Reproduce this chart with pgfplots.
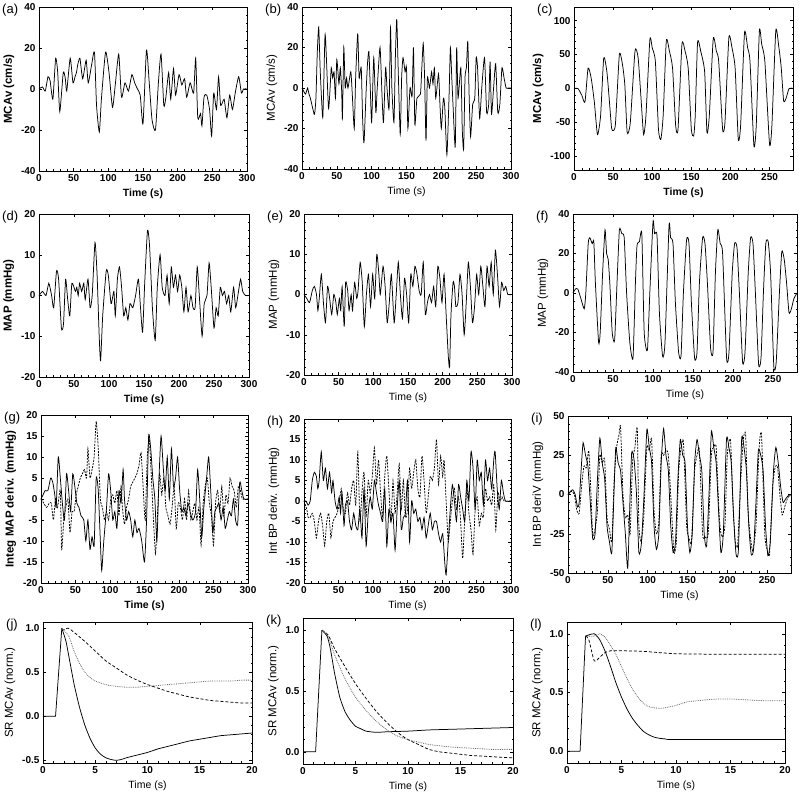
\documentclass[border=0pt]{standalone}
\usepackage{pgfplots}
\pgfplotsset{compat=1.18}
\usepackage{fontspec}
\setmainfont{Liberation Sans}

\pgfplotsset{
  panel/.style={
    scale only axis,
    axis line style={black, line width=0.6pt},
    tick align=inside,
    major tick length=3pt,
    minor tick length=1.5pt,
    minor tick num=4,
    tick style={black, line width=0.4pt},
    tick label style={font=\bfseries\fontsize{10}{10}\selectfont},
    xlabel style={font=\fontsize{10.5}{11}\selectfont},
    ylabel style={font=\fontsize{11.5}{12}\selectfont},
    xlabel={Time (s)},
    clip=false,
  },
  boldlab/.style={xlabel style={font=\bfseries\fontsize{10.5}{11}\selectfont},
                  ylabel style={font=\bfseries\fontsize{11.5}{12}\selectfont}},
  sig/.style={line width=0.75pt, black, smooth, tension=0.35},
  dsh/.style={line width=0.75pt, black, smooth, tension=0.35, dash pattern=on 2pt off 1.2pt},
  dshl/.style={line width=0.75pt, black, smooth, tension=0.4, dash pattern=on 3pt off 2pt},
  dtt/.style={line width=0.8pt, black!60, smooth, tension=0.4, dash pattern=on 0.8pt off 1pt},
}
\newcommand{\plab}[1]{\node[anchor=north west, font=\fontsize{13}{13}\selectfont, inner sep=0pt] at ([xshift=-37pt, yshift=3pt]rel axis cs:0,1) {#1};}

\begin{document}
\begin{tikzpicture}
\useasboundingbox (0pt,0pt) rectangle (800pt,797pt);

% (a)
\begin{axis}[panel, boldlab, at={(39pt,626pt)}, anchor=south west, width=208pt, height=164pt,
  xmin=0, xmax=300, ymin=-40, ymax=40, xtick={0,50,100,150,200,250,300},
  xticklabels={0,50,100,150,200,250,300},
  ytick={-40,-20,0,20,40}, yticklabels={-40,-20,0,20,40}, ylabel={MCAv (cm/s)}]
\addplot[sig] coordinates {(0,0)(5,1)(9,-1)(13,6)(16,4)(20,-5)(24,15)(27,8)(30,-11)(35,8)(38,5)(40,-1)(45,15)(49,3)(52,6)(54,8)(56,12)(59,15)(63,5)(68,14)(71,3)(76,12)(80,18)(83,-8)(87,-21)(90,-5)(96,18)(101,8)(106,-9)(110,2)(115,17)(119,-4)(124,3)(129,-1)(134,7)(138,3)(142,0)(146,-3)(150,-17)(155,19)(159,3)(163,-15)(168,-20)(172,2)(176,17)(180,-8)(183,-4)(187,8)(190,-5)(194,10)(197,-3)(202,7)(206,2)(210,5)(213,-4)(218,3)(223,-2)(226,15)(229,-14)(233,-12)(235,-18)(238,-4)(242,-3)(246,-10)(249,-23)(252,-2)(256,-10)(259,6)(262,-8)(267,-5)(271,-14)(275,-3)(279,-10)(283,-2)(288,6)(292,-2)(295,0)(300,0)};
\plab{(a)}
\end{axis}

% (b)
\begin{axis}[panel, at={(302pt,628pt)}, anchor=south west, width=209pt, height=162pt,
  xmin=0, xmax=300, ymin=-40, ymax=40, xtick={0,50,100,150,200,250,300},
  xticklabels={0,50,100,150,200,250,300},
  ytick={-40,-20,0,20,40}, yticklabels={-40,-20,0,20,40}, ylabel={MCAv (cm/s)}]
\addplot[sig] coordinates {(0,0)(5,-3)(8,0)(10,-3)(12,-5)(16,-11)(18,-13)(20,-5)(22,18)(24,30)(26,10)(28,-5)(30,-14)(33,26)(35,15)(38,-10)(40,-2)(42,10)(44,5)(46,8)(48,-5)(50,14)(53,2)(55,10)(57,-2)(58,-15)(60,20)(62,0)(64,5)(66,0)(70,8)(72,-2)(75,-20)(77,5)(80,27)(82,5)(85,10)(87,-15)(89,-27)(92,-2)(94,12)(96,18)(98,0)(100,-17)(103,15)(106,-12)(108,0)(112,20)(115,-5)(117,-17)(120,10)(122,0)(125,-10)(127,30)(129,0)(132,-17)(134,15)(136,34)(138,10)(141,-23)(143,5)(145,15)(148,8)(150,10)(152,-20)(155,0)(158,-4)(160,20)(162,-18)(165,-5)(170,-3)(172,10)(174,22)(176,5)(178,-26)(180,5)(183,0)(186,8)(188,2)(190,10)(192,-5)(196,7)(198,-8)(200,-20)(203,-5)(205,-10)(208,-33)(211,-5)(213,20)(215,5)(217,-10)(220,-29)(222,20)(224,-5)(228,10)(230,-20)(232,-30)(234,5)(236,10)(238,23)(240,-5)(242,-24)(245,-8)(248,-5)(250,15)(252,10)(255,-15)(258,0)(262,15)(265,-12)(268,-8)(270,13)(272,-13)(275,0)(278,12)(281,-12)(284,-8)(287,10)(290,5)(293,0)(296,0)(300,0)};
\plab{(b)}
\end{axis}

% (c)
\begin{axis}[panel, boldlab, at={(574pt,627pt)}, anchor=south west, width=219pt, height=163pt,
  xmin=0, xmax=280, ymin=-120, ymax=120, xtick={0,50,100,150,200,250},
  xticklabels={0,50,100,150,200,250},
  ytick={-100,-50,0,50,100}, yticklabels={-100,-50,0,50,100}, ylabel={MCAv (cm/s)}]
\addplot[sig] coordinates {(0,0)(5,0)(10,-10)(14,-20)(18,30)(22,15)(26,-20)(30,-68)(34,-40)(38,45)(42,25)(45,-15)(48,-58)(50,-62)(53,-52)(58,50)(62,35)(65,5)(68,-65)(72,-50)(78,55)(82,45)(86,-20)(89,-68)(92,-40)(97,72)(100,60)(104,40)(108,-60)(111,-75)(114,-40)(118,70)(122,55)(126,30)(130,-55)(133,-60)(138,65)(142,55)(146,30)(150,-60)(153,-70)(155,-40)(158,68)(162,55)(167,25)(170,-65)(173,-40)(178,73)(182,55)(185,40)(190,-60)(193,-50)(198,75)(202,60)(206,30)(210,-74)(213,-55)(218,82)(222,60)(225,40)(230,-84)(233,-55)(237,85)(240,65)(244,40)(250,-82)(253,-55)(258,85)(262,60)(265,30)(268,-18)(271,-15)(275,0)(280,0)};
\plab{(c)}
\end{axis}

% (d)
\begin{axis}[panel, boldlab, at={(39pt,420pt)}, anchor=south west, width=210pt, height=163pt,
  xmin=0, xmax=300, ymin=-20, ymax=20, xtick={0,50,100,150,200,250,300},
  xticklabels={0,50,100,150,200,250,300},
  ytick={-20,-10,0,10,20}, yticklabels={-20,-10,0,10,20}, ylabel={MAP (mmHg)}]
\addplot[sig] coordinates {(0,0)(5,1)(10,0)(14,3)(18,0)(21,-3)(25,6)(28,4)(32,-8)(35,-7)(38,4)(41,-1)(44,-5)(47,3)(52,1)(54,2)(56,0)(58,3)(61,1)(64,3)(66,-1)(70,4)(73,-3)(76,0)(80,13)(83,5)(86,-10)(88,-16)(91,-5)(96,6)(99,5)(103,-2)(107,1)(109,-5)(112,4)(115,7)(118,2)(121,-5)(124,-3)(127,-6)(130,-2)(134,-3)(138,0)(142,4)(145,-3)(148,-9)(151,3)(155,16)(158,12)(162,-3)(166,-11)(169,2)(173,10)(176,2)(180,0)(183,5)(186,-2)(189,7)(192,2)(195,5)(198,1)(201,5)(204,2)(207,-4)(210,2)(213,-4)(217,0)(220,-3)(223,-3)(226,7)(229,0)(233,-10)(236,-2)(240,0)(243,8)(246,2)(250,-8)(253,-3)(256,-5)(259,2)(262,0)(265,1)(268,-2)(271,0)(274,-4)(278,2)(281,-3)(285,1)(288,4)(291,1)(295,0)(300,0)};
\plab{(d)}
\end{axis}

% (e)
\begin{axis}[panel, at={(304pt,422pt)}, anchor=south west, width=208pt, height=161pt,
  xmin=0, xmax=300, ymin=-20, ymax=20, xtick={0,50,100,150,200,250,300},
  xticklabels={0,50,100,150,200,250,300},
  ytick={-20,-10,0,10,20}, yticklabels={-20,-10,0,10,20}, ylabel={MAP (mmHg)}]
\addplot[sig] coordinates {(0,0)(4,-1)(8,-2)(12,1)(15,2)(18,0)(20,-4)(22,-1)(25,5)(28,-2)(31,-7)(34,2)(37,-1)(40,-5)(43,0)(46,-2)(48,-5)(51,-1)(53,-4)(55,2)(58,-8)(60,3)(63,1)(65,-4)(68,0)(70,-4)(73,3)(76,-1)(78,1)(81,8)(84,3)(87,-8)(90,0)(93,5)(96,-3)(99,5)(102,-1)(105,10)(108,5)(110,0)(114,7)(117,2)(120,-7)(123,-2)(126,5)(130,-7)(133,0)(136,8)(139,0)(142,-6)(145,4)(148,0)(151,-7)(154,5)(157,2)(160,7)(163,5)(166,1)(169,0)(172,8)(175,-5)(178,-2)(181,0)(184,-2)(187,2)(190,-3)(193,7)(196,4)(199,-2)(202,5)(205,-5)(208,-15)(210,-18)(212,-5)(215,3)(217,2)(219,-3)(222,-2)(225,5)(228,0)(231,-10)(234,-2)(237,8)(240,2)(243,-7)(246,-3)(249,5)(252,0)(255,7)(258,2)(261,-3)(264,7)(267,2)(270,8)(273,0)(276,11)(279,5)(282,-3)(285,3)(288,1)(291,2)(294,0)(300,0)};
\plab{(e)}
\end{axis}

% (f)
\begin{axis}[panel, at={(573pt,425pt)}, anchor=south west, width=224pt, height=158pt,
  xmin=0, xmax=280, ymin=-40, ymax=40, xtick={0,50,100,150,200,250},
  xticklabels={0,50,100,150,200,250},
  ytick={-40,-20,0,20,40}, yticklabels={-40,-20,0,20,40}, ylabel={MAP (mmHg)}]
\addplot[sig] coordinates {(0,0)(3,2)(6,2)(10,-3)(14,-8)(16,0)(19,25)(21,28)(24,25)(26,26)(28,5)(32,-25)(34,-20)(37,10)(40,32)(42,20)(44,17)(46,5)(49,-20)(52,-24)(55,5)(58,32)(61,30)(64,28)(67,0)(71,-25)(75,-33)(78,5)(80,24)(83,26)(86,30)(89,-20)(93,-29)(96,0)(100,36)(102,30)(105,29)(108,-10)(112,-32)(115,-25)(120,34)(122,28)(125,25)(128,-5)(132,-30)(135,-32)(138,0)(142,27)(145,25)(148,-5)(152,-33)(155,-30)(158,5)(162,28)(165,25)(168,5)(172,-28)(175,-30)(178,10)(181,32)(184,25)(187,20)(192,-33)(195,-30)(199,10)(202,25)(205,23)(208,0)(212,-35)(215,-30)(219,10)(222,28)(225,25)(228,0)(232,-36)(235,-33)(238,0)(241,25)(244,26)(247,10)(251,-37)(254,-35)(258,0)(261,21)(264,17)(267,5)(270,-10)(273,-8)(276,-3)(280,0)};
\plab{(f)}
\end{axis}

% (g)
\begin{axis}[panel, boldlab, at={(41pt,214pt)}, anchor=south west, width=207pt, height=168pt,
  xmin=0, xmax=300, ymin=-20, ymax=20, xtick={0,50,100,150,200,250,300},
  xticklabels={0,50,100,150,200,250,300},
  ytick={-20,-15,-10,-5,0,5,10,15,20}, yticklabels={-20,-15,-10,-5,0,5,10,15,20}, ylabel={Integ MAP deriv. (mmHg)}]
\addplot[sig] coordinates {(0,0)(3,1)(6,2)(10,2)(14,5)(17,4)(20,1)(22,-2)(25,10)(28,5)(31,-1)(34,-5)(37,6)(40,2)(43,-3)(46,6)(49,3)(52,-1)(55,-2)(58,-4)(62,-5)(65,-10)(68,-5)(71,-12)(74,-9)(77,-11)(80,5)(83,2)(86,-10)(88,-17)(91,-10)(95,-2)(98,6)(101,2)(104,-5)(107,-3)(110,-7)(113,2)(116,-1)(119,7)(121,0)(124,-5)(127,-3)(130,-5)(133,-9)(136,-5)(139,-8)(142,-7)(146,-10)(150,-15)(153,-5)(156,15)(159,12)(162,5)(165,0)(168,-10)(171,5)(174,15)(177,8)(180,2)(183,10)(186,0)(189,12)(192,3)(195,5)(198,10)(201,2)(204,-3)(207,-2)(210,-4)(213,-1)(216,-3)(220,-5)(224,-3)(227,7)(230,0)(233,-9)(236,-2)(240,5)(243,10)(246,2)(249,-8)(252,-3)(255,-2)(258,-1)(261,-5)(264,-2)(267,-7)(270,-5)(273,-3)(276,-4)(279,0)(282,-5)(285,-6)(288,4)(291,2)(294,0)(300,0)};
\addplot[dsh] coordinates {(0,0)(4,-1)(8,-2)(12,-1)(15,-1)(18,-5)(21,0)(24,-2)(28,2)(30,-12)(33,-5)(36,-2)(39,0)(42,-8)(45,-3)(48,-3)(51,1)(54,3)(57,5)(60,6)(63,7)(66,5)(68,12)(71,5)(74,7)(77,10)(80,18.5)(83,12)(86,0)(89,-2)(92,-5)(95,-3)(98,-5)(101,0)(104,1)(107,-1)(110,2)(113,-4)(116,3)(118,-2)(121,-6)(124,-2)(127,0)(130,3)(133,4)(136,5)(139,6)(142,8)(145,11)(148,3)(151,-5)(154,10)(157,14)(160,5)(163,-5)(166,-13)(169,-3)(172,6)(175,1)(178,5)(181,-2)(184,-4)(187,-6)(190,-2)(193,3)(196,-7)(199,-1)(202,-2)(205,-5)(208,0)(211,-5)(214,2)(217,-5)(220,-3)(223,-1)(226,-5)(229,-2)(232,-11)(235,-1)(238,3)(241,5)(244,-1)(247,-4)(250,-11)(253,-1)(256,2)(259,-3)(262,3)(265,-4)(268,1)(271,-1)(274,5)(277,3)(280,2)(283,-2)(286,3)(289,2)(292,0)(300,0)};
\plab{(g)}
\end{axis}

% (h)
\begin{axis}[panel, at={(304pt,214pt)}, anchor=south west, width=207pt, height=164pt,
  xmin=0, xmax=300, ymin=-20, ymax=20, xtick={0,50,100,150,200,250,300},
  xticklabels={0,50,100,150,200,250,300},
  ytick={-20,-15,-10,-5,0,5,10,15,20}, yticklabels={-20,-15,-10,-5,0,5,10,15,20}, ylabel={Int BP deriv. (mmHg)}]
\addplot[sig] coordinates {(0,0)(3,0)(6,-1)(9,0)(12,5)(15,7)(18,6)(20,3)(22,5)(25,12)(28,5)(31,8)(34,3)(37,7)(40,2)(42,5)(45,0)(48,-2)(51,1)(53,-3)(55,2)(58,-6)(60,-1)(63,0)(66,-5)(69,-7)(72,-3)(75,-6)(78,-7)(81,-2)(84,-9)(87,3)(90,-11)(93,-3)(96,1)(99,-2)(102,5)(105,2)(108,-1)(111,-3)(114,-5)(117,3)(120,-11)(123,-2)(126,-5)(129,-3)(132,-12)(135,-2)(138,5)(141,-7)(144,-4)(147,-3)(150,5)(153,-10)(156,0)(159,-3)(162,-2)(165,-5)(168,-4)(171,-7)(174,-4)(177,-9)(180,-6)(183,-3)(186,-7)(189,-5)(192,-5)(195,-8)(198,-10)(201,-8)(204,-15)(206,-18)(209,-10)(212,-2)(215,4)(218,0)(221,-5)(224,4)(227,1)(230,-2)(233,-5)(236,5)(239,0)(242,12)(245,8)(248,-2)(251,10)(254,5)(257,7)(260,-1)(263,10)(266,5)(269,8)(272,3)(275,10)(277,12)(280,3)(283,-2)(286,5)(289,2)(292,0)(300,0)};
\addplot[dsh] coordinates {(0,0)(4,-2)(6,-4)(9,-4)(12,-3)(15,-5)(18,-9)(21,-5)(24,-3)(27,-6)(30,-11)(33,-5)(36,-3)(39,-9)(42,-5)(45,-4)(48,-3)(51,-1)(54,3)(57,-2)(60,-3)(63,2)(66,-1)(69,3)(72,5)(75,-1)(78,12)(81,-5)(84,2)(87,7)(90,-4)(93,5)(96,2)(99,6)(102,13)(105,4)(108,10)(111,2)(114,-4)(117,6)(120,11)(123,3)(126,-5)(129,5)(132,-3)(135,2)(138,9)(141,-2)(144,5)(147,-4)(150,-2)(153,8)(156,3)(159,7)(162,10)(165,3)(168,1)(171,11)(174,5)(177,-3)(180,1)(183,6)(186,5)(189,8)(192,15)(195,4)(198,11)(201,6)(203,10)(206,0)(209,-10)(212,-5)(215,0)(218,3)(221,-2)(224,1)(227,-5)(230,-14)(233,-4)(236,3)(239,-3)(242,-7)(245,-13)(248,-2)(251,1)(254,-6)(257,-3)(260,-4)(263,3)(266,0)(269,1)(272,-1)(275,4)(278,-7)(281,2)(284,0)(287,1)(290,0)(300,0)};
\plab{(h)}
\end{axis}

% (i)
\begin{axis}[panel, at={(568pt,224pt)}, anchor=south west, width=223pt, height=157pt,
  xmin=0, xmax=280, ymin=-50, ymax=50, xtick={0,50,100,150,200,250},
  xticklabels={0,50,100,150,200,250},
  ytick={-50,-25,0,25,50}, yticklabels={-50,-25,0,25,50}, ylabel={Int BP deriV (mmHg)}]
\addplot[sig] coordinates {(0,0)(3,2)(6,3)(9,0)(12,-8)(14,-5)(17,20)(19,33)(22,25)(25,18)(28,-5)(31,-28)(34,-25)(37,10)(40,36)(43,20)(46,10)(49,-20)(52,-30)(55,-37)(58,5)(60,30)(63,20)(66,15)(69,-5)(72,-25)(75,-47)(78,0)(80,27)(83,22)(86,0)(89,-37)(92,-32)(95,-5)(99,41)(102,30)(105,20)(108,-20)(111,-35)(114,-25)(117,20)(120,42)(123,25)(126,15)(129,-20)(132,-37)(135,-30)(138,10)(141,35)(144,25)(147,20)(150,-20)(153,-37)(156,-25)(159,20)(162,35)(165,25)(168,15)(171,-25)(174,-33)(177,0)(180,40)(183,30)(186,20)(189,-10)(192,-37)(195,-25)(199,35)(202,30)(205,20)(208,-15)(211,-38)(214,-35)(218,35)(221,30)(224,15)(227,-20)(230,-38)(233,-35)(236,-5)(239,28)(242,25)(245,15)(248,-20)(251,-39)(254,-30)(258,15)(261,30)(264,20)(267,5)(270,-5)(273,-3)(276,-1)(280,0)};
\addplot[dsh] coordinates {(0,0)(4,2)(8,0)(11,-10)(14,-12)(17,5)(20,18)(23,17)(26,28)(28,10)(31,-25)(34,-22)(37,-10)(40,25)(43,20)(46,22)(49,-15)(52,-22)(55,-30)(58,10)(61,30)(64,38)(66,43)(69,0)(72,-15)(75,-13)(78,-25)(81,20)(84,30)(87,42)(89,-20)(92,-30)(95,-15)(99,30)(102,28)(105,35)(108,-10)(111,-25)(114,-18)(117,25)(120,25)(123,28)(126,25)(130,-10)(133,-37)(136,-30)(139,15)(142,30)(145,33)(149,-20)(152,-28)(155,-30)(159,15)(162,25)(165,28)(169,-25)(172,-27)(176,-25)(180,25)(183,30)(186,30)(190,-15)(193,-27)(197,-20)(200,25)(204,35)(207,-5)(210,-30)(213,-32)(217,10)(220,35)(223,38)(226,-10)(229,-27)(232,-36)(236,-20)(240,30)(243,38)(247,-25)(250,-35)(253,-38)(257,5)(260,17)(263,18)(266,0)(269,-13)(272,-8)(276,-2)(280,0)};
\plab{(i)}
\end{axis}

% (j)
\begin{axis}[panel, at={(43pt,34pt)}, anchor=south west, width=209pt, height=141pt,
  xmin=0, xmax=20, ymin=-0.53, ymax=1.07, xtick={0,5,10,15,20},
  xticklabels={0,5,10,15,20},
  ytick={-0.5,0,0.5,1}, yticklabels={-0.5,0.0,0.5,1.0}, ylabel={SR MCAv (norm.)}]
\addplot[line width=0.75pt, black] coordinates {(0,0)(1.2,0)(1.8,1.0)};
\addplot[sig] coordinates {(1.8,1.0)(2.2,0.85)(2.6,0.6)(3,0.35)(3.5,0.1)(4,-0.1)(4.5,-0.25)(5,-0.36)(5.5,-0.43)(6,-0.47)(6.5,-0.49)(7,-0.5)(7.5,-0.49)(8,-0.47)(9,-0.44)(10,-0.41)(11,-0.37)(12,-0.34)(13,-0.31)(14,-0.28)(15,-0.26)(16,-0.24)(17,-0.22)(18,-0.21)(19,-0.2)(20,-0.19)};
\addplot[dshl] coordinates {(1.8,0.97)(2.4,1.0)(3,0.95)(4,0.85)(5,0.74)(6,0.63)(7,0.55)(8,0.47)(9,0.41)(10,0.36)(11,0.32)(12,0.28)(13,0.25)(14,0.22)(15,0.2)(16,0.18)(17,0.17)(18,0.16)(19,0.15)(20,0.15)};
\addplot[dtt] coordinates {(1.8,1.0)(2.0,0.98)(2.5,0.9)(3,0.73)(3.5,0.6)(4,0.5)(4.5,0.44)(5,0.4)(6,0.36)(7,0.34)(8,0.33)(9,0.33)(10,0.34)(11,0.35)(12,0.36)(13,0.37)(14,0.38)(15,0.39)(16,0.4)(17,0.4)(18,0.4)(19,0.41)(20,0.41)};
\plab{(j)}
\end{axis}

% (k)
\begin{axis}[panel, at={(303pt,33pt)}, anchor=south west, width=210pt, height=146pt,
  xmin=0, xmax=20, ymin=-0.1, ymax=1.1, xtick={0,5,10,15,20},
  xticklabels={0,5,10,15,20},
  ytick={0,0.5,1}, yticklabels={0.0,0.5,1.0}, ylabel={SR MCAv (norm.)}]
\addplot[line width=0.75pt, black] coordinates {(0,0)(1.2,0)(1.8,1.0)};
\addplot[sig] coordinates {(1.8,1.0)(2.3,0.95)(2.6,0.85)(3,0.65)(3.5,0.45)(4,0.33)(4.5,0.26)(5,0.21)(5.5,0.19)(6,0.17)(7,0.16)(8,0.165)(10,0.17)(12,0.18)(14,0.185)(16,0.19)(18,0.195)(20,0.2)};
\addplot[dshl] coordinates {(1.8,1.0)(2.4,0.96)(3,0.85)(4,0.7)(5,0.56)(6,0.44)(7,0.33)(8,0.24)(9,0.16)(10,0.1)(11,0.06)(12,0.02)(13,0)(14,-0.01)(15,-0.02)(16,-0.03)(17,-0.035)(18,-0.04)(19,-0.045)(20,-0.05)};
\addplot[dtt] coordinates {(1.8,1.0)(2.4,0.95)(3,0.8)(4,0.6)(5,0.45)(6,0.34)(7,0.25)(8,0.18)(9,0.13)(10,0.1)(11,0.08)(12,0.06)(13,0.05)(14,0.04)(15,0.035)(16,0.03)(17,0.025)(18,0.02)(19,0.02)(20,0.02)};
\plab{(k)}
\end{axis}

% (l)
\begin{axis}[panel, at={(567pt,34pt)}, anchor=south west, width=218pt, height=141pt,
  xmin=0, xmax=20, ymin=-0.1, ymax=1.1, xtick={0,5,10,15,20},
  xticklabels={0,5,10,15,20},
  ytick={0,0.5,1}, yticklabels={0.0,0.5,1.0}, ylabel={SR MCAv (norm.)}]
\addplot[line width=0.75pt, black] coordinates {(0,0)(1.2,0)(1.7,0.98)};
\addplot[sig] coordinates {(1.7,0.98)(2.0,0.99)(2.5,1.0)(3,0.95)(3.5,0.85)(4,0.72)(4.5,0.58)(5,0.46)(5.5,0.36)(6,0.28)(6.5,0.22)(7,0.17)(7.5,0.14)(8,0.12)(8.5,0.11)(9,0.105)(9.5,0.1)(14,0.1)(20,0.1)};
\addplot[dshl] coordinates {(1.7,0.98)(2.0,0.95)(2.5,0.77)(3,0.8)(3.5,0.84)(4,0.855)(5,0.855)(7,0.85)(10,0.83)(15,0.825)(20,0.825)};
\addplot[dtt] coordinates {(1.7,0.98)(2.5,0.98)(3,1.0)(3.5,0.97)(4,0.9)(4.5,0.82)(5,0.72)(5.5,0.62)(6,0.53)(6.5,0.46)(7,0.41)(7.5,0.38)(8,0.37)(8.5,0.365)(9,0.37)(10,0.39)(11,0.42)(12,0.43)(13,0.44)(14,0.445)(15,0.445)(16,0.44)(17,0.435)(18,0.43)(19,0.43)(20,0.43)};
\plab{(l)}
\end{axis}
\end{tikzpicture}
\end{document}
